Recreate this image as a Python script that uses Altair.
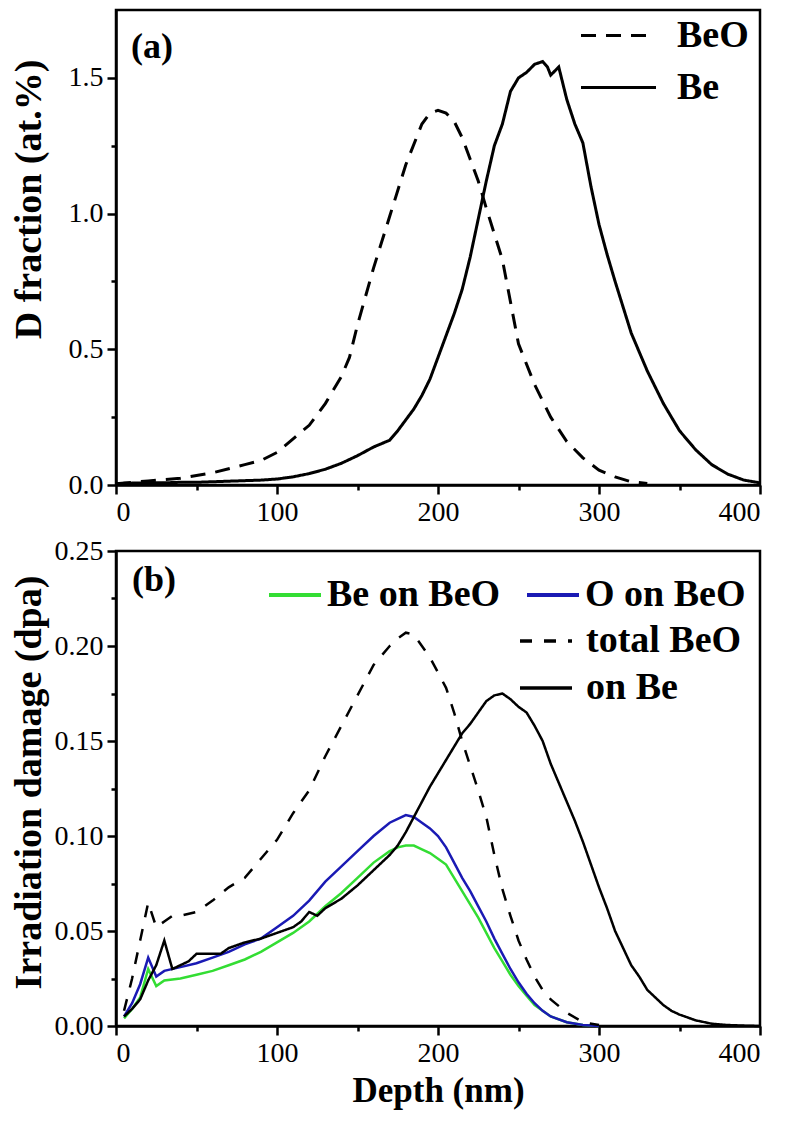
import altair as alt
import pandas as pd

# ---------------- Panel (a): D fraction ----------------
beo_a_depth = [0, 10, 20, 30, 40, 50, 60, 70, 80, 90, 100, 110, 120, 130, 140, 145, 150, 160, 170, 180, 190,
               195, 200, 205, 210, 215, 220, 225, 230, 240, 250, 260, 270, 280, 290, 300, 310, 320, 330]
beo_a_frac = [0.005, 0.01, 0.015, 0.02, 0.025, 0.035, 0.045, 0.06, 0.075, 0.09, 0.12, 0.17, 0.22, 0.30,
              0.40, 0.47, 0.59, 0.80, 0.99, 1.18, 1.33, 1.37, 1.38, 1.37, 1.34, 1.28, 1.20, 1.12, 1.02, 0.83,
              0.52, 0.37, 0.25, 0.16, 0.10, 0.055, 0.03, 0.012, 0.006]

be_a_depth = [0, 10, 20, 30, 40, 50, 60, 70, 80, 90, 100, 110, 120, 130, 140, 150, 160, 170, 175, 180,
              185, 190, 195, 200, 205, 210, 215, 220, 225, 230, 235, 240, 245, 250, 255, 260, 265, 268,
              270, 275, 280, 285, 290, 295, 300, 305, 310, 320, 330, 340, 350, 360, 370, 380, 390, 400]
be_a_frac = [0.005, 0.007, 0.008, 0.008, 0.01, 0.01, 0.012, 0.014, 0.016, 0.018, 0.022, 0.03, 0.042,
             0.058, 0.08, 0.108, 0.14, 0.165, 0.20, 0.24, 0.28, 0.33, 0.39, 0.47, 0.55, 0.63, 0.72, 0.84,
             0.98, 1.12, 1.25, 1.33, 1.45, 1.50, 1.52, 1.55, 1.56, 1.54, 1.51, 1.54, 1.42, 1.33, 1.26,
             1.10, 0.96, 0.85, 0.75, 0.56, 0.42, 0.30, 0.20, 0.13, 0.075, 0.04, 0.018, 0.008]

# ---------------- Panel (b): irradiation damage ----------------
bebeo_depth = [5, 10, 15, 20, 25, 30, 40, 50, 60, 70, 80, 90, 100, 110, 120, 130, 140, 150, 160, 170,
               175, 180, 185, 190, 195, 200, 205, 210, 215, 220, 225, 230, 235, 240, 245, 250, 255, 260,
               265, 270, 280, 290, 300]
bebeo_dpa = [0.004, 0.009, 0.015, 0.030, 0.021, 0.024, 0.025, 0.027, 0.029, 0.032, 0.035, 0.039, 0.044,
             0.049, 0.055, 0.063, 0.070, 0.078, 0.086, 0.092, 0.094, 0.095, 0.095, 0.093, 0.091, 0.088,
             0.085, 0.078, 0.071, 0.064, 0.057, 0.049, 0.041, 0.034, 0.027, 0.021, 0.016, 0.011, 0.008,
             0.005, 0.002, 0.0005, 0.0]

obeo_depth = bebeo_depth
obeo_dpa = [0.005, 0.012, 0.022, 0.036, 0.026, 0.029, 0.031, 0.033, 0.036, 0.039, 0.043, 0.046, 0.052,
            0.058, 0.066, 0.076, 0.084, 0.092, 0.100, 0.107, 0.109, 0.111, 0.110, 0.107, 0.104, 0.100,
            0.094, 0.086, 0.078, 0.071, 0.063, 0.055, 0.046, 0.038, 0.030, 0.023, 0.017, 0.012, 0.008,
            0.005, 0.002, 0.0005, 0.0]

total_depth = [5, 10, 15, 20, 25, 30, 35, 40, 50, 60, 70, 80, 90, 100, 110, 120, 130, 140, 150, 160, 170,
               175, 180, 185, 190, 195, 200, 205, 210, 215, 220, 225, 230, 235, 240, 245, 250, 255, 260,
               265, 270, 280, 290, 300]
total_dpa = [0.008, 0.025, 0.045, 0.065, 0.052, 0.055, 0.058, 0.058, 0.060, 0.066, 0.073, 0.078, 0.088,
             0.098, 0.112, 0.124, 0.142, 0.158, 0.174, 0.190, 0.200, 0.204, 0.207, 0.206, 0.200, 0.194,
             0.186, 0.178, 0.165, 0.150, 0.137, 0.124, 0.110, 0.090, 0.072, 0.058, 0.045, 0.035, 0.026,
             0.019, 0.014, 0.007, 0.002, 0.0005]

onbe_depth = [5, 10, 15, 20, 25, 30, 35, 40, 45, 50, 55, 60, 65, 70, 80, 90, 100, 110, 115, 120, 125, 130,
              140, 150, 160, 170, 175, 180, 185, 190, 195, 200, 205, 210, 215, 220, 225, 230, 235, 240,
              245, 250, 255, 260, 265, 270, 275, 280, 285, 290, 295, 300, 305, 310, 315, 320, 325, 330,
              335, 340, 345, 350, 360, 370, 380, 390, 400]
onbe_dpa = [0.005, 0.009, 0.014, 0.024, 0.032, 0.045, 0.030, 0.032, 0.034, 0.038, 0.038, 0.038, 0.038,
            0.041, 0.044, 0.046, 0.049, 0.052, 0.055, 0.060, 0.058, 0.062, 0.067, 0.074, 0.082, 0.090,
            0.095, 0.102, 0.110, 0.118, 0.126, 0.133, 0.140, 0.147, 0.154, 0.159, 0.165, 0.171, 0.174,
            0.175, 0.172, 0.168, 0.165, 0.158, 0.150, 0.138, 0.128, 0.118, 0.108, 0.097, 0.085, 0.073,
            0.062, 0.050, 0.041, 0.032, 0.026, 0.019, 0.015, 0.011, 0.008, 0.006, 0.003, 0.0012, 0.0005,
            0.0002, 0.0]

series_a = ["BeO", "Be"]
series_b_color = ["Be on BeO", "O on BeO"]
series_b_dash = ["total BeO", "on Be"]
colors_b = ["#33dd33", "#1a1ab4"]

# ---------------- tables ----------------
df_a = pd.concat([
    pd.DataFrame({"depth": beo_a_depth, "val": beo_a_frac, "series": series_a[0]}),
    pd.DataFrame({"depth": be_a_depth, "val": be_a_frac, "series": series_a[1]}),
])
df_b1 = pd.concat([
    pd.DataFrame({"depth": bebeo_depth, "val": bebeo_dpa, "series": series_b_color[0]}),
    pd.DataFrame({"depth": obeo_depth, "val": obeo_dpa, "series": series_b_color[1]}),
])
df_b2 = pd.concat([
    pd.DataFrame({"depth": total_depth, "val": total_dpa, "series": series_b_dash[0]}),
    pd.DataFrame({"depth": onbe_depth, "val": onbe_dpa, "series": series_b_dash[1]}),
])

SERIF = "'Liberation Serif', 'Times New Roman', 'DejaVu Serif', serif"
W, H = 644, 475

x_values = list(range(0, 401, 50))


def x_axis(title):
    return alt.Axis(
        values=x_values,
        labelExpr="datum.value % 100 == 0 ? datum.label : ''",
        tickSize={"condition": {"test": "datum.value % 100 != 0", "value": 5}, "value": 9},
        grid=False,
        labelFont=SERIF,
        title=title,
    )


xscale = alt.Scale(domain=[0, 400], nice=False, zero=False)

# ---------------- panel (a) ----------------
ya_values = [0, 0.25, 0.5, 0.75, 1.0, 1.25, 1.5]
line_a = alt.Chart(df_a).mark_line(color="black", strokeWidth=3).encode(
    x=alt.X("depth:Q", scale=xscale, axis=x_axis(None)),
    y=alt.Y("val:Q", scale=alt.Scale(domain=[0, 1.75], nice=False),
            axis=alt.Axis(values=ya_values, title="D fraction (at.%)", labelFont=SERIF,
                          labelExpr="round(datum.value*100) % 50 == 0 ? format(datum.value, '.1f') : ''",
                          tickSize={"condition": {"test": "round(datum.value*100) % 50 != 0", "value": 5},
                                    "value": 9},
                          titleX=-68, titleY=189, grid=False)),
    strokeDash=alt.StrokeDash("series:N",
                              scale=alt.Scale(domain=series_a, range=[[15, 10], [1, 0]]),
                              legend=alt.Legend(title=None, orient="none", legendX=482, legendY=5,
                                                symbolType="M-2,0H2", symbolSize=1406,
                                                symbolStrokeWidth=3, symbolStrokeColor="black",
                                                labelFont=SERIF, labelFontSize=38, labelFontWeight="bold",
                                                labelColor="black", labelOffset=38, rowPadding=12,
                                                labelLimit=0, direction="vertical")),
    detail="series:N",
)
label_a = alt.Chart(pd.DataFrame({"t": ["(a)"]})).mark_text(
    font=SERIF, fontSize=36, fontWeight="bold", align="left", baseline="alphabetic", color="black"
).encode(text="t:N", x=alt.value(15), y=alt.value(48))

panel_a = alt.layer(line_a, label_a).properties(width=W, height=H)

# ---------------- panel (b) ----------------
yb_values = [round(i * 0.025, 3) for i in range(11)]
yb_axis = alt.Axis(values=yb_values, title="Irradiation damage (dpa)", labelFont=SERIF,
                   labelExpr="round(datum.value*1000) % 50 == 0 ? format(datum.value, '.2f') : ''",
                   tickSize={"condition": {"test": "round(datum.value*1000) % 50 != 0", "value": 5},
                             "value": 9},
                   titleX=-68, titleY=231, grid=False)
yb_scale = alt.Scale(domain=[0, 0.25], nice=False)

lines_b1 = alt.Chart(df_b1).mark_line(strokeWidth=2.5).encode(
    x=alt.X("depth:Q", scale=xscale, axis=x_axis("Depth (nm)")),
    y=alt.Y("val:Q", scale=yb_scale, axis=yb_axis),
    color=alt.Color("series:N", scale=alt.Scale(domain=series_b_color, range=colors_b),
                    legend=alt.Legend(title=None, orient="none", legendX=151, legendY=16,
                                      direction="horizontal", symbolType="stroke", symbolSize=2704,
                                      symbolStrokeWidth=4, labelFont=SERIF, labelFontSize=38,
                                      labelFontWeight="bold", labelColor="black", labelOffset=4,
                                      labelLimit=0, columnPadding=18)),
)
lines_b2 = alt.Chart(df_b2).mark_line(strokeWidth=2.5, color="black").encode(
    x=alt.X("depth:Q", scale=xscale, axis=x_axis("Depth (nm)")),
    y=alt.Y("val:Q", scale=yb_scale, axis=yb_axis),
    strokeDash=alt.StrokeDash("series:N",
                              scale=alt.Scale(domain=series_b_dash, range=[[12, 12], [1, 0]]),
                              legend=alt.Legend(title=None, orient="none", legendX=402, legendY=62,
                                                direction="vertical", symbolType="stroke",
                                                symbolSize=2704, symbolStrokeWidth=3.5,
                                                symbolStrokeColor="black", labelFont=SERIF,
                                                labelFontSize=38, labelFontWeight="bold",
                                                labelColor="black", labelOffset=12, rowPadding=-9,
                                                labelLimit=0)),
    detail="series:N",
)
label_b = alt.Chart(pd.DataFrame({"t": ["(b)"]})).mark_text(
    font=SERIF, fontSize=36, fontWeight="bold", align="left", baseline="alphabetic", color="black"
).encode(text="t:N", x=alt.value(16), y=alt.value(40))

panel_b = alt.layer(lines_b1, lines_b2, label_b).properties(width=W, height=H)

chart = alt.vconcat(panel_a, panel_b, spacing=7).resolve_scale(
    strokeDash="independent", color="independent", y="independent"
).resolve_legend(strokeDash="independent", color="independent").properties(
    padding={"left": 0, "top": 0, "right": 5, "bottom": 5}
).configure_view(
    stroke="black", strokeWidth=2.5
).configure_axis(
    domainColor="black", domainWidth=2.5, tickColor="black", tickWidth=2.5,
    labelFont=SERIF, labelFontSize=28, labelColor="black", labelPadding=4,
    titleFont=SERIF, titleFontSize=38, titleFontWeight="bold", titleColor="black",
).configure_axisX(titleFontSize=35, titlePadding=6)

chart.save("out.html", embed_options={"renderer": "svg", "actions": False})
